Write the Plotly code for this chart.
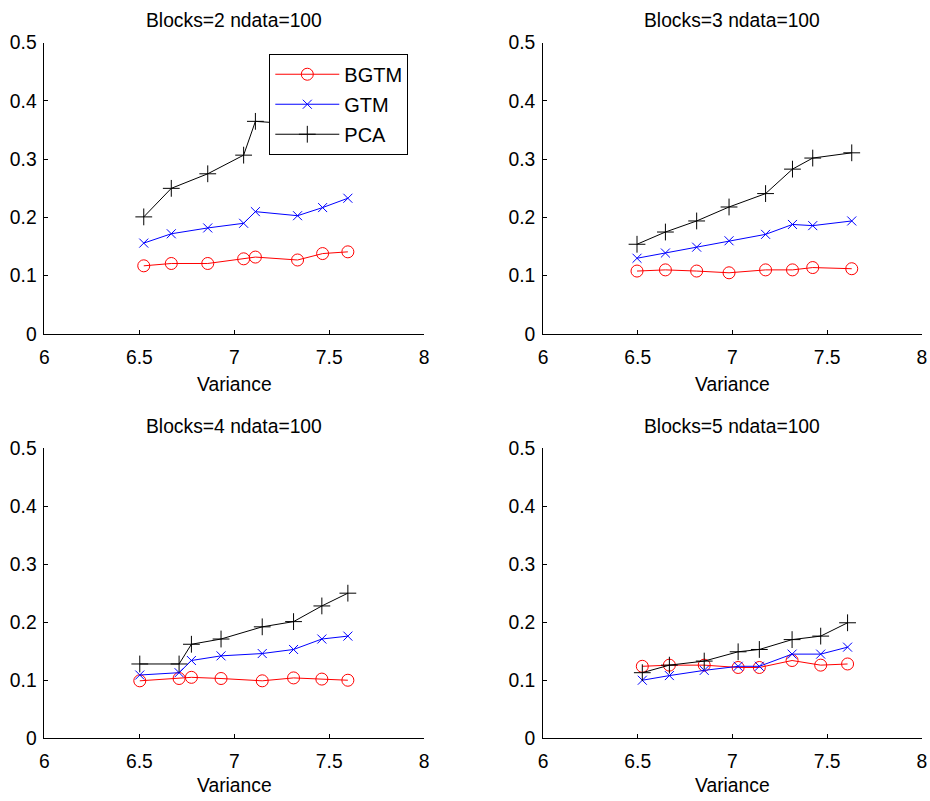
import plotly.graph_objects as go

# Variance values and reconstruction errors for each block setting
blocks = [2, 3, 4, 5]
ndata = 100

var_b2 = [6.523, 6.668, 6.860, 7.049, 7.111, 7.333, 7.465, 7.598]
bgtm_b2 = [0.117, 0.121, 0.121, 0.129, 0.132, 0.127, 0.138, 0.141]
gtm_b2 = [0.156, 0.172, 0.182, 0.190, 0.210, 0.203, 0.217, 0.233]
pca_b2 = [0.201, 0.250, 0.275, 0.307, 0.365, 0.360, 0.372, 0.390]

var_b3 = [6.496, 6.646, 6.811, 6.982, 7.175, 7.317, 7.424, 7.630]
bgtm_b3 = [0.108, 0.110, 0.108, 0.105, 0.110, 0.110, 0.114, 0.112]
gtm_b3 = [0.130, 0.139, 0.149, 0.160, 0.171, 0.188, 0.186, 0.194]
pca_b3 = [0.154, 0.175, 0.194, 0.218, 0.241, 0.283, 0.302, 0.311]

var_b4 = [6.502, 6.709, 6.774, 6.930, 7.147, 7.312, 7.461, 7.598]
bgtm_b4 = [0.099, 0.103, 0.105, 0.103, 0.099, 0.104, 0.102, 0.100]
gtm_b4 = [0.109, 0.113, 0.134, 0.142, 0.146, 0.153, 0.171, 0.176]
pca_b4 = [0.128, 0.128, 0.162, 0.171, 0.192, 0.201, 0.228, 0.250]

var_b5 = [6.524, 6.667, 6.851, 7.030, 7.142, 7.315, 7.466, 7.608]
bgtm_b5 = [0.124, 0.126, 0.126, 0.122, 0.122, 0.134, 0.126, 0.128]
gtm_b5 = [0.100, 0.108, 0.117, 0.124, 0.124, 0.145, 0.145, 0.157]
pca_b5 = [0.113, 0.126, 0.133, 0.149, 0.153, 0.170, 0.176, 0.199]

panels = [
    (var_b2, bgtm_b2, gtm_b2, pca_b2),
    (var_b3, bgtm_b3, gtm_b3, pca_b3),
    (var_b4, bgtm_b4, gtm_b4, pca_b4),
    (var_b5, bgtm_b5, gtm_b5, pca_b5),
]

x_ticks = [6, 6.5, 7, 7.5, 8]
x_ticklabels = ["6", "6.5", "7", "7.5", "8"]
y_ticks = [0, 0.1, 0.2, 0.3, 0.4, 0.5]
y_ticklabels = ["0", "0.1", "0.2", "0.3", "0.4", "0.5"]

W, H = 930, 801
FONT = "Liberation Sans, Arial, sans-serif"
FS = 19.3

# layout is planned in screen pixels; the rendered page sits slightly inset
X0, XS = 4.5, 0.99
Y0, YS = 9.3, 0.973


def fx(px):
    """screen x pixel -> paper fraction"""
    return min(max((px - X0) / XS / W, 0.0), 1.0)


def fy(py):
    """screen y pixel (from top) -> paper fraction"""
    return min(max(1 - (py - Y0) / YS / H, 0.0), 1.0)


# plot areas in screen pixels
xdoms = [[fx(44), fx(424)], [fx(543), fx(922)]]
ydoms = [[fy(333), fy(42)], [fy(737), fy(447)]]
title_y = [fy(20), fy(425)]
xlabel_y = [fy(383), fy(784)]

series_style = [
    ("BGTM", "#ff0000", "circle-open", 12),
    ("GTM", "#0000ff", "x-thin-open", 9),
    ("PCA", "#000000", "cross-thin-open", 12),
]

fig = go.Figure()
layout = {}
annotations = []

for i, (xv, bg, gt, pc) in enumerate(panels):
    row, col = divmod(i, 2)
    n = i + 1
    xa = "x" if n == 1 else f"x{n}"
    ya = "y" if n == 1 else f"y{n}"
    for (name, color, sym, msize), yv in zip(series_style, (bg, gt, pc)):
        fig.add_trace(go.Scatter(
            x=xv, y=yv, mode="lines+markers", name=name,
            xaxis=xa, yaxis=ya,
            line=dict(color=color, width=1),
            marker=dict(symbol=sym, size=msize,
                        line=dict(color=color, width=1), color=color),
            showlegend=(i == 0), legendgroup=name,
        ))
    axis_common = dict(
        showgrid=False, zeroline=False, showline=True,
        linecolor="#000000", linewidth=1, ticks="inside", ticklen=4,
        tickcolor="#000000", tickfont=dict(family=FONT, size=FS, color="#000000"),
        mirror=False,
    )
    layout["xaxis" if n == 1 else f"xaxis{n}"] = dict(
        axis_common, domain=xdoms[col], anchor=ya, range=[6, 8],
        tickmode="array", tickvals=x_ticks, ticktext=x_ticklabels,
        ticklabelstandoff=6,
    )
    layout["yaxis" if n == 1 else f"yaxis{n}"] = dict(
        axis_common, domain=ydoms[row], anchor=xa, range=[0, 0.5],
        tickmode="array", tickvals=y_ticks, ticktext=y_ticklabels,
        ticklabelstandoff=3,
    )
    cx = (xdoms[col][0] + xdoms[col][1]) / 2
    annotations.append(dict(
        text=f"Blocks={blocks[i]} ndata={ndata}", xref="paper", yref="paper",
        x=cx, y=title_y[row], xanchor="center", yanchor="middle",
        showarrow=False, font=dict(family=FONT, size=FS, color="#000000"),
    ))
    annotations.append(dict(
        text="Variance", xref="paper", yref="paper",
        x=cx, y=xlabel_y[row], xanchor="center", yanchor="middle",
        showarrow=False, font=dict(family=FONT, size=FS, color="#000000"),
    ))

fig.update_layout(
    **layout,
    annotations=annotations,
    width=W, height=H,
    margin=dict(l=0, r=0, t=0, b=0),
    paper_bgcolor="white", plot_bgcolor="white",
    showlegend=True,
    legend=dict(
        x=fx(269), y=fy(53), xanchor="left", yanchor="top",
        bgcolor="white", bordercolor="#000000", borderwidth=1,
        font=dict(family=FONT, size=20, color="#000000"),
        traceorder="grouped", tracegroupgap=1, itemwidth=64,
    ),
)

fig.write_html("out.html")
